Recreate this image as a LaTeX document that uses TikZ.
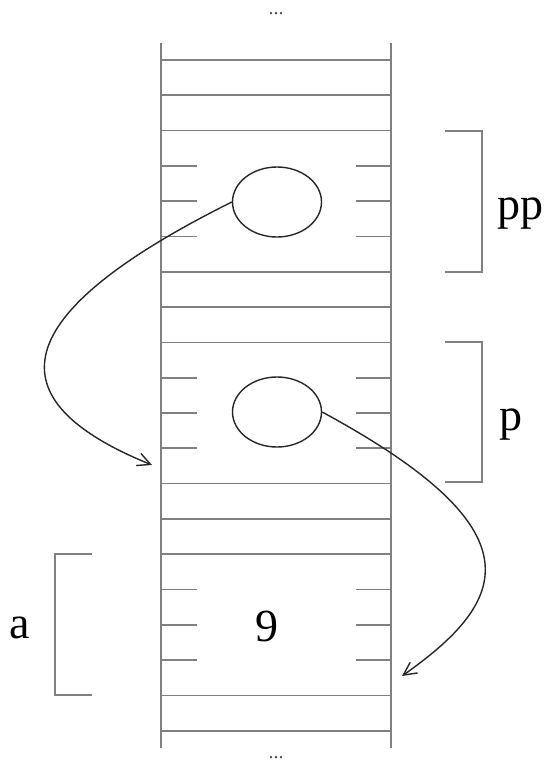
\documentclass[tikz,border=0pt]{standalone}
\usepackage{fontspec}
\setmainfont{Liberation Serif}
\usetikzlibrary{arrows.meta,shapes.geometric}
\begin{document}
\begin{tikzpicture}[x=1pt,y=-1pt,
  rail/.style={draw=black!50,line width=1.7pt},
  tick/.style={draw=black!50,line width=1.7pt},
  brk/.style={draw=black!50,line width=1.7pt},
  cell/.style={ellipse,draw=black!85,line width=1.4pt,minimum width=89pt,minimum height=70pt,inner sep=0pt},
  ptr/.style={draw=black!85,line width=1.4pt,-{Straight Barb[length=13pt,width=13pt,line width=1.4pt]}},
  lbl/.style={font=\fontsize{46}{46}\selectfont,inner sep=0pt},
  dots/.style={font=\fontsize{20}{20}\selectfont,inner sep=0pt,text=black!70}]
\useasboundingbox (0,0) rectangle (544,764);
% rails
\draw[rail] (161,43) -- (161,748);
\draw[rail] (391,43) -- (391,748);
% full horizontal lines
\foreach \k in {0,1,2,6,7,8,12,13,14,18,19}{
  \draw[rail] (161,60+35.3*\k) -- (391,60+35.3*\k);
}
% ticks
\foreach \k in {3,4,5,9,10,11,15,16,17}{
  \draw[tick] (161,60+35.3*\k) -- (197,60+35.3*\k);
  \draw[tick] (356,60+35.3*\k) -- (391,60+35.3*\k);
}
% dots
\node[dots] (topdots) at (276,14) {...};
\node[dots] (botdots) at (276,758) {...};
% ellipses
\node[cell] (pp) at (277,202) {};
\node[cell] (p) at (277,412) {};
\node[lbl] (nine) at (267,626) {9};
% brackets
\draw[brk] (445,131) -- (482,131) -- (482,272) -- (445,272);
\draw[brk] (445,342) -- (482,342) -- (482,482) -- (445,482);
\draw[brk] (92,554) -- (55,554) -- (55,695) -- (92,695);
\node[lbl,anchor=west] (lpp) at (497,214) {pp};
\node[lbl,anchor=west] (lp) at (499,425) {p};
\node[lbl,anchor=east] (la) at (30,628) {a};
% pointers
\coordinate (t1) at (152,465);
\coordinate (t2) at (402,676);
\draw[ptr] (pp.west) .. controls (5,315) and (-8,400) .. (t1);
\draw[ptr] (p.east) .. controls (540,530) and (510,600) .. (t2);
\end{tikzpicture}
\end{document}
